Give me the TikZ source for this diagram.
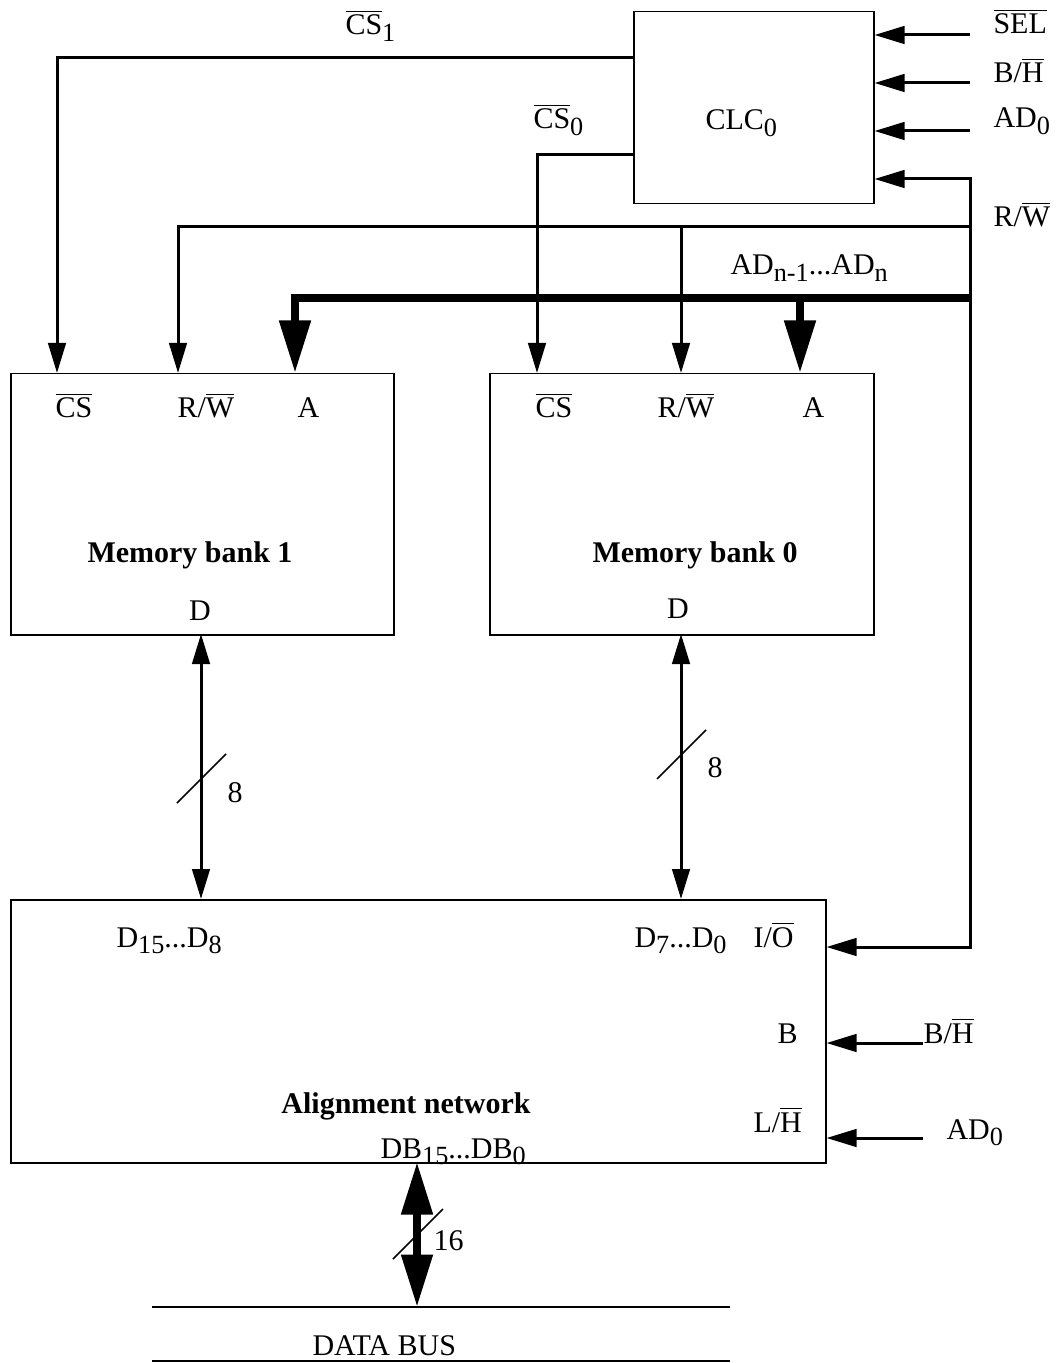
\documentclass[tikz,border=0pt]{standalone}
\usepackage{fontspec}
\setmainfont{Liberation Serif}
\usepackage{tikz}
\usetikzlibrary{arrows.meta,positioning}

\newcommand{\ovl}[1]{$\overline{\mbox{#1}}$}
\newcommand{\sub}[1]{\raisebox{-2.6pt}{\fontsize{10.5pt}{12pt}\selectfont #1}}

\begin{document}
\begin{tikzpicture}[
  x=0.4pt, y=-0.4pt,
  font=\fontsize{12pt}{14pt}\selectfont,
  blk/.style={draw, line width=0.6pt, anchor=north west, inner sep=0pt},
  txt/.style={anchor=base west, inner sep=0pt},
  ctxt/.style={anchor=base, inner sep=0pt},
  sig/.style={line width=1.2pt, -{Triangle[length=12pt,width=7pt]}},
  sigboth/.style={line width=1.2pt, {Triangle[length=12pt,width=7pt]}-{Triangle[length=12pt,width=7pt]}},
  bus/.style={line width=3.2pt, -{Triangle[length=21pt,width=12pt]}},
  busboth/.style={line width=3.2pt, {Triangle[length=21pt,width=12pt]}-{Triangle[length=21pt,width=12pt]}},
  slash/.style={line width=0.6pt}
]
\useasboundingbox (0,0) rectangle (1058,1363);

% blocks
\node[blk, minimum width=96pt, minimum height=76.8pt] (clc) at (633,11) {};
\node[blk, minimum width=153.2pt, minimum height=104.4pt] (bank1) at (10,373) {};
\node[blk, minimum width=153.6pt, minimum height=104.4pt] (bank0) at (489,373) {};
\node[blk, minimum width=326pt, minimum height=105.2pt] (align) at (10,899) {};

\node[txt] (clct) at (705,130) {CLC\sub{0}};
\node[ctxt] (bank1t) at (190,563) {\textbf{Memory bank 1}};
\node[ctxt] (bank0t) at (695,563) {\textbf{Memory bank 0}};
\node[ctxt] (alignt) at (406,1113) {\textbf{Alignment network}};

% pin names
\node[txt] (b1cst) at (55,418) {\ovl{CS}};
\node[txt] (b1rwt) at (177,418) {R/\ovl{W}};
\node[txt] (b1at) at (297,418) {A};
\node[ctxt] (b1dt) at (200,620) {D};
\node[txt] (b0cst) at (535,418) {\ovl{CS}};
\node[txt] (b0rwt) at (657,418) {R/\ovl{W}};
\node[txt] (b0at) at (802,418) {A};
\node[ctxt] (b0dt) at (678,618) {D};
\node[txt] (ad1t) at (116,947) {D\sub{15}...D\sub{8}};
\node[txt] (ad0t) at (634,947) {D\sub{7}...D\sub{0}};
\node[txt] (aiot) at (753,947) {I/\ovl{O}};
\node[txt] (abt) at (777,1043) {B};
\node[txt] (alht) at (753,1132) {L/\ovl{H}};
\node[txt] (adbt) at (380,1158) {DB\sub{15}...DB\sub{0}};

% signal names
\node[txt] (cs1t) at (345,35) {\ovl{CS}\sub{1}};
\node[txt] (cs0t) at (533,129) {\ovl{CS}\sub{0}};
\node[txt] (selt) at (993,34) {\ovl{SEL}};
\node[txt] (bht) at (993,83) {B/\ovl{H}};
\node[txt] (adt) at (993,128) {AD\sub{0}};
\node[txt] (rwt) at (993,227) {R/\ovl{W}};
\node[txt] (addrt) at (730,275) {AD\sub{n-1}...AD\sub{n}};
\node[txt] (bh2t) at (923,1043) {B/\ovl{H}};
\node[txt] (ad2t) at (946,1139) {AD\sub{0}};
\node[txt] (w8a) at (227,802) {8};
\node[txt] (w8b) at (707,777) {8};
\node[txt] (w16) at (433,1250) {16};
\node[txt] (dbus) at (312,1355) {DATA BUS};

% pins on the blocks
\coordinate (b1cs) at (57,373);
\coordinate (b1rw) at (178,373);
\coordinate (b1a) at (295,373);
\coordinate (b0cs) at (537,373);
\coordinate (b0rw) at (681,373);
\coordinate (b0a) at (800,373);
\coordinate (b1d) at (201,634);
\coordinate (b0d) at (681,634);
\coordinate (db) at (417,1162);

% signal ends
\coordinate (cs1) at (633,58);
\coordinate (cs0) at (633,155);
\coordinate (selin) at (970,35);
\coordinate (bhin) at (970,83);
\coordinate (adin) at (970,131);
\coordinate (rwin) at (970,179);
\coordinate (rwtap) at (970,227);
\coordinate (iotap) at (970,947);
\coordinate (busend) at (972,298);
\coordinate (bh2in) at (923,1043);
\coordinate (ad2in) at (923,1138);
\coordinate (dbl) at (152,1307);
\coordinate (dbr) at (730,1307);

% CLC inputs
\draw[sig] (selin) -- (selin -| clc.east);
\draw[sig] (bhin) -- (bhin -| clc.east);
\draw[sig] (adin) -- (adin -| clc.east);
\draw[sig] (rwtap) |- (rwin -| clc.east);

% chip selects
\draw[sig] (cs1) -| (b1cs);
\draw[sig] (cs0) -| (b0cs);

% read/write
\draw[sig] (rwtap) -| (b1rw);
\draw[sig] (b0rw |- rwtap) -- (b0rw);
\draw[sig] (rwtap) -- (iotap) -- (iotap -| align.east);

% address bus
\draw[bus] (busend) -| (b1a);
\draw[bus] (b0a |- busend) -- (b0a);

% data paths
\draw[sigboth] (b1d) -- (b1d |- align.north);
\draw[slash] (177,803) -- ++(49,-49);
\draw[sigboth] (b0d) -- (b0d |- align.north);
\draw[slash] (657,779) -- ++(49,-49);

% alignment inputs
\draw[sig] (bh2in) -- (bh2in -| align.east);
\draw[sig] (ad2in) -- (ad2in -| align.east);

% data bus
\draw[busboth] (db) -- (db |- dbl);
\draw[slash] (393,1259) -- ++(50,-50);
\draw[line width=0.8pt] (dbl) -- (dbr);
\draw[line width=0.8pt] (152,1361) -- (730,1361);
\end{tikzpicture}
\end{document}
